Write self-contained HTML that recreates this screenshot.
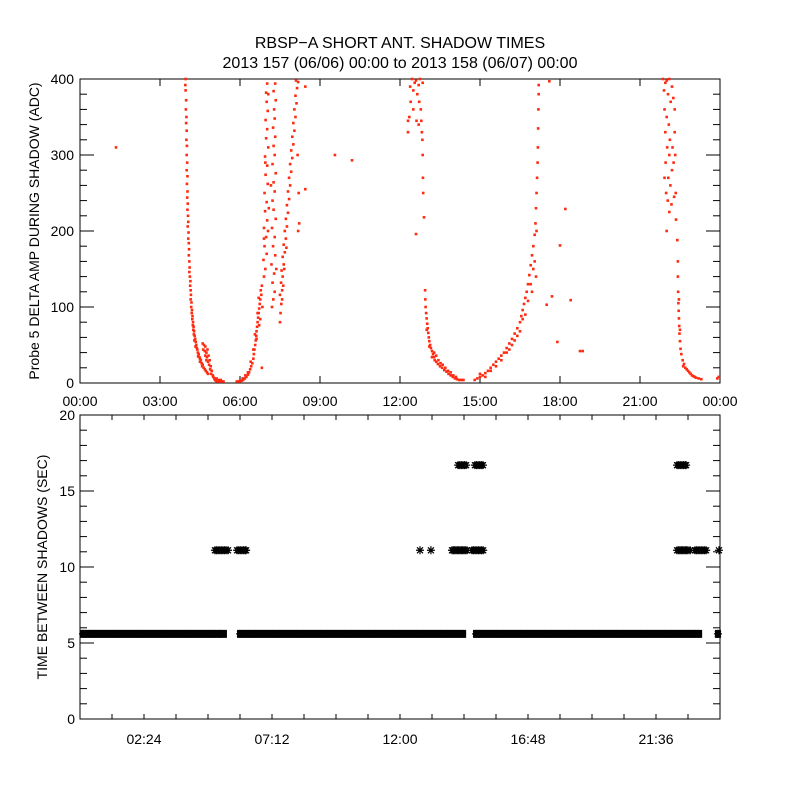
<!DOCTYPE html>
<html><head><meta charset="utf-8"><style>
html,body{margin:0;padding:0;background:#fff;}
svg{display:block;font-family:"Liberation Sans",sans-serif;}
</style></head><body>
<svg id="chart" width="800" height="800" viewBox="0 0 800 800">
<rect width="800" height="800" fill="#fff"/>
<text x="400" y="48" text-anchor="middle" font-size="16">RBSP−A SHORT ANT. SHADOW TIMES</text>
<text x="400" y="68" text-anchor="middle" font-size="16">2013 157 (06/06) 00:00 to 2013 158 (06/07) 00:00</text>
<text transform="translate(39,231) rotate(-90)" text-anchor="middle" font-size="14">Probe 5 DELTA AMP DURING SHADOW (ADC)</text>
<text transform="translate(47,567) rotate(-90)" text-anchor="middle" font-size="14">TIME BETWEEN SHADOWS (SEC)</text>
<g id="top"></g>
<g id="bot"></g>
</svg>
<script>
const topXTicks = [0,3,6,9,12,15,18,21,24];
const topXLabels = ["00:00","03:00","06:00","09:00","12:00","15:00","18:00","21:00","00:00"];
const topYTicks = [0,100,200,300,400];
const botYTicks = [0,5,10,15,20];
const botXLabelHours = [2.4,7.2,12,16.8,21.6];
const botXLabels = ["02:24","07:12","12:00","16:48","21:36"];
const shadowPoints = [
[3.96,400],[3.95,392],[3.96,385],[3.98,372],[3.97,360],[3.99,350],[3.98,342],[4.0,332],[3.99,320],[4.01,312],[4.0,300],[4.02,290],[4.0,280],[4.03,272],[4.01,262],[4.03,252],[4.02,244],[4.04,236],[4.03,228],[4.05,220],[4.06,212],[4.04,206],[4.07,198],[4.06,190],[4.08,184],[4.09,176],[4.08,168],[4.1,160],[4.11,152],[4.1,146],[4.12,140],[4.14,134],[4.13,128],[4.15,122],[4.16,116],[4.15,110],[4.18,106],[4.17,100],[4.2,96],[4.19,92],[4.22,88],[4.21,84],[4.24,80],[4.23,76],[4.26,74],[4.25,70],[4.28,68],[4.27,64],[4.3,62],[4.32,58],[4.29,56],[4.34,54],[4.36,50],[4.33,48],[4.38,46],[4.4,44],[4.42,40],[4.45,38],[4.43,35],[4.48,34],[4.5,32],[4.53,30],[4.5,28],[4.56,26],[4.6,24],[4.58,22],[4.64,20],[4.68,18],[4.72,16],[4.76,14],[4.8,12],
[4.6,52],[4.65,50],[4.7,48],[4.62,44],[4.68,42],[4.74,40],[4.78,44],[4.7,36],[4.76,34],[4.82,36],[4.74,30],[4.8,28],[4.86,30],[4.84,24],[4.9,22],[4.88,18],[4.94,16],[4.92,12],[4.98,10],[5.0,8],[5.04,6],[5.06,4],[5.1,3],[5.14,2],[5.2,2],[5.26,2],[5.32,2],[5.38,2],[5.12,6],[5.2,4],[5.28,4],
[5.88,2],[5.94,2],[6.0,3],[6.06,3],[6.12,4],[6.18,6],[6.24,8],[6.3,11],[6.34,14],[6.38,18],[6.42,22],[6.46,26],[6.5,32],[6.52,38],[6.54,44],[6.57,50],[6.59,56],[6.61,62],[6.62,68],[6.64,74],[6.66,80],[6.68,86],[6.7,92],[6.72,98],[6.74,104],[6.76,110],[6.8,116],[6.78,122],[6.82,128],[6.0,2],[6.1,6],[6.2,10],[6.3,14],[6.4,28],[6.5,44],[6.56,64],[6.66,92],[6.72,76],[6.62,58],[6.7,112],[6.76,84],[6.84,100],[6.82,20],
[6.9,140],[6.95,150],[6.88,162],[7.0,170],[6.92,180],[6.98,192],[6.9,204],[7.02,214],[6.94,226],[7.0,238],[6.92,250],[7.04,262],[6.96,274],[7.02,286],[6.94,298],[7.06,310],[6.98,322],[7.02,334],[6.96,346],[7.04,358],[7.0,370],[6.98,382],[7.02,394],[7.06,380],[6.95,290],[7.08,230],[6.9,190],[7.05,200],
[7.2,100],[7.25,110],[7.3,120],[7.22,132],[7.28,144],[7.18,156],[7.32,168],[7.24,180],[7.3,192],[7.2,204],[7.34,216],[7.26,228],[7.22,240],[7.3,252],[7.26,264],[7.34,276],[7.22,288],[7.3,300],[7.26,312],[7.32,324],[7.24,336],[7.3,348],[7.28,360],[7.34,372],[7.26,384],[7.32,394],[7.36,150],[7.16,260],
[7.5,80],[7.52,92],[7.55,104],[7.5,116],[7.58,122],[7.54,132],[7.6,140],[7.56,148],[7.64,156],[7.6,166],[7.68,172],[7.64,182],[7.72,190],[7.68,200],[7.76,206],[7.72,216],[7.8,224],[7.76,234],[7.84,242],[7.8,252],[7.88,260],[7.84,270],[7.92,278],[7.88,288],[7.96,296],[7.92,306],[8.0,314],[7.96,324],[8.04,332],[8.0,342],[8.08,350],[8.04,360],[8.12,368],[8.08,378],[8.14,388],[8.1,398],[8.2,250],[8.18,200],[8.22,210],[8.16,300],[7.58,110],[7.66,150],[7.74,178],[7.62,128],[8.18,396],
[1.35,310],[8.45,390],[8.45,255],[9.56,300],[10.2,293],
[12.3,330],[12.35,350],[12.4,370],[12.38,390],[12.45,400],[12.5,385],[12.55,395],[12.6,398],[12.65,380],[12.7,392],[12.72,370],[12.75,400],[12.78,360],[12.8,345],[12.82,330],[12.84,320],[12.85,300],[12.86,270],[12.87,250],[12.5,360],[12.62,345],[12.7,340],[12.9,218],[12.6,196],[12.3,345],[12.85,395],
[12.94,122],[12.95,110],[12.96,100],[12.98,92],[13.0,85],[13.02,78],[13.04,72],[13.06,66],[13.08,60],[13.1,55],[13.13,50],[13.16,46],[13.2,42],[13.24,38],[13.28,34],[13.3,30],[13.36,28],[13.42,25],[13.5,22],[13.58,20],[13.66,17],[13.74,15],[13.82,12],[13.9,10],[13.98,8],[14.06,6],[14.14,5],[14.22,4],[14.3,4],[14.38,4],[13.2,34],[13.28,40],[13.36,36],[13.44,30],[13.52,26],[13.6,24],[13.7,20],[13.8,16],[13.9,14],[14.0,10],[14.1,8],[13.1,48],[13.0,70],
[14.8,4],[14.9,6],[15.0,8],[15.1,10],[15.2,13],[15.3,16],[15.4,20],[15.5,24],[15.6,28],[15.7,32],[15.8,36],[15.9,40],[16.0,46],[16.1,52],[16.2,58],[16.3,65],[16.4,72],[16.5,80],[16.55,88],[16.6,96],[16.65,104],[16.7,112],[16.75,120],[16.8,130],[16.85,142],[16.9,155],[16.95,168],[17.0,180],[17.05,195],[17.08,210],[17.1,230],[17.12,250],[17.14,270],[17.16,290],[17.17,310],[17.18,335],[17.19,360],[17.2,380],[17.2,392],[15.0,12],[15.2,8],[15.4,16],[15.6,22],[15.8,30],[16.0,40],[16.2,50],[16.4,62],[16.6,84],[16.8,108],[16.9,130],[17.0,150],[17.1,140],[17.05,160],[16.95,120],[17.12,200],[16.7,90],[16.5,68],[16.3,56],[16.1,44],
[17.6,397],[17.5,103],[17.7,114],[18.0,181],[18.2,229],[18.4,109],[17.9,54],[18.75,42],[18.85,42],
[21.86,400],[21.9,385],[21.95,395],[22.0,398],[22.05,380],[22.1,400],[22.15,370],[21.92,360],[22.0,350],[22.08,340],[21.95,330],[22.12,320],[22.2,390],[22.25,375],[22.3,360],[22.02,310],[22.1,300],[21.96,290],[22.2,280],[22.06,270],[22.14,260],[21.98,250],[22.28,245],[22.04,240],[22.18,235],[22.1,225],[22.3,330],[22.32,300],[22.22,310],[21.92,270],[22.0,200],[22.35,215],[22.34,250],[22.26,290],
[22.4,188],[22.42,160],[22.42,140],[22.43,120],[22.44,105],[22.45,95],[22.46,85],[22.47,75],[22.48,65],[22.5,55],[22.52,45],[22.55,38],[22.6,30],[22.65,25],[22.7,20],[22.8,16],[22.9,12],[23.0,9],[23.1,7],[23.2,6],[23.3,5],[22.62,22],[22.75,18],[22.85,14],[22.95,10],[23.05,8],[22.5,70],[22.46,110],
[23.9,6],[23.95,8]
];
const bandStarts = [0,5.89,14.74,23.81];
const bandEnds = [5.51,14.48,23.33,24];
const bandValue = 5.6;
const elevenTimes = [5.06,5.12,5.18,5.24,5.3,5.36,5.42,5.48,5.55,5.89,5.95,6.01,6.07,6.13,6.19,6.23,12.75,13.16,13.95,14.0,14.05,14.1,14.15,14.2,14.25,14.3,14.35,14.4,14.45,14.51,14.7,14.76,14.82,14.88,14.94,15.0,15.06,15.12,22.39,22.45,22.5,22.55,22.6,22.65,22.7,22.75,22.8,22.88,23.06,23.12,23.18,23.24,23.3,23.36,23.42,23.48,23.96];
const elevenValue = 11.1;
const sixteenTimes = [14.18,14.24,14.3,14.36,14.42,14.48,14.81,14.87,14.93,14.99,15.05,15.11,22.39,22.45,22.51,22.57,22.63,22.69,22.73];
const sixteenValue = 16.7;

const NS="http://www.w3.org/2000/svg";
const L=80,R=720,T1=79,B1=383,T2=415,B2=719;
const xT=h=>L+h/24*(R-L);
const yT=v=>B1-v/400*(B1-T1);
const yB=v=>B2-v/20*(B2-T2);
function mk(tag,attrs,parent){const e=document.createElementNS(NS,tag);for(const k in attrs)e.setAttribute(k,attrs[k]);parent.appendChild(e);return e;}
const gt=document.getElementById('top'), gb=document.getElementById('bot');

let f=mk('rect',{x:L,y:T1,width:R-L,height:B1-T1,fill:'none',stroke:'#000','stroke-width':1},gt);


topXTicks.forEach((h,i)=>{
  mk('line',{x1:xT(h),x2:xT(h),y1:B1,y2:B1-7,stroke:'#000'},gt);
  mk('line',{x1:xT(h),x2:xT(h),y1:T1,y2:T1+7,stroke:'#000'},gt);
  const t=mk('text',{x:xT(h),y:B1+23,'text-anchor':'middle','font-size':14},gt);
  t.textContent=topXLabels[i];
  
  
});
for(let v=0;v<=400;v+=20){
  const len=(v%100===0)?14:7;
  mk('line',{x1:L,x2:L+len,y1:yT(v),y2:yT(v),stroke:'#000'},gt);
  mk('line',{x1:R,x2:R-len,y1:yT(v),y2:yT(v),stroke:'#000'},gt);
}
topYTicks.forEach(v=>{
  const t=mk('text',{x:L-6,y:yT(v)+5,'text-anchor':'end','font-size':14},gt);
  t.textContent=String(v);
  
  
});
shadowPoints.forEach(p=>{
  const r=mk('rect',{x:xT(p[0])-1.3,y:yT(p[1])-1.3,width:2.6,height:2.6,fill:'#ff2a10'},gt);
  
  
});

f=mk('rect',{x:L,y:T2,width:R-L,height:B2-T2,fill:'none',stroke:'#000','stroke-width':1},gb);


for(let h=0;h<=24.001;h+=1.2){
  mk('line',{x1:xT(h),x2:xT(h),y1:B2,y2:B2-5,stroke:'#000'},gb);
  mk('line',{x1:xT(h),x2:xT(h),y1:T2,y2:T2+5,stroke:'#000'},gb);
}
botXLabelHours.forEach((h,i)=>{
  const t=mk('text',{x:xT(h),y:B2+25,'text-anchor':'middle','font-size':14},gb);
  t.textContent=botXLabels[i];
  
  
});
for(let v=0;v<=20;v++){
  const len=(v%5===0)?14:7;
  mk('line',{x1:L,x2:L+len,y1:yB(v),y2:yB(v),stroke:'#000'},gb);
  mk('line',{x1:R,x2:R-len,y1:yB(v),y2:yB(v),stroke:'#000'},gb);
}
botYTicks.forEach(v=>{
  const t=mk('text',{x:L-5,y:yB(v)+5,'text-anchor':'end','font-size':14},gb);
  t.textContent=String(v);
  
  
});
function star(cx,cy){
  return mk('path',{d:`M${cx-4},${cy}h8M${cx},${cy-4}v8M${cx-3},${cy-3}l6,6M${cx-3},${cy+3}l6,-6`,stroke:'#000','stroke-width':1.2,fill:'none'},gb);
}
bandStarts.forEach((s,i)=>{
  const x0=xT(s)+3,x1=Math.max(x0,xT(bandEnds[i])-3),y=yB(bandValue);
  const r=mk('rect',{x:x0-3,y:y-4,width:x1-x0+6,height:8,fill:'#000'},gb);
  
  
  for(let x=x0;x<=x1+0.01;x+=3){
    const s2=star(x,y);
    
    
  }
});
function cluster(times,val,name){
  times.forEach(h=>{
    const s=star(xT(h),yB(val));
    
    
  });
}
cluster(elevenTimes,elevenValue,'interval-marker-11s');
cluster(sixteenTimes,sixteenValue,'interval-marker-17s');
</script>
</body></html>
